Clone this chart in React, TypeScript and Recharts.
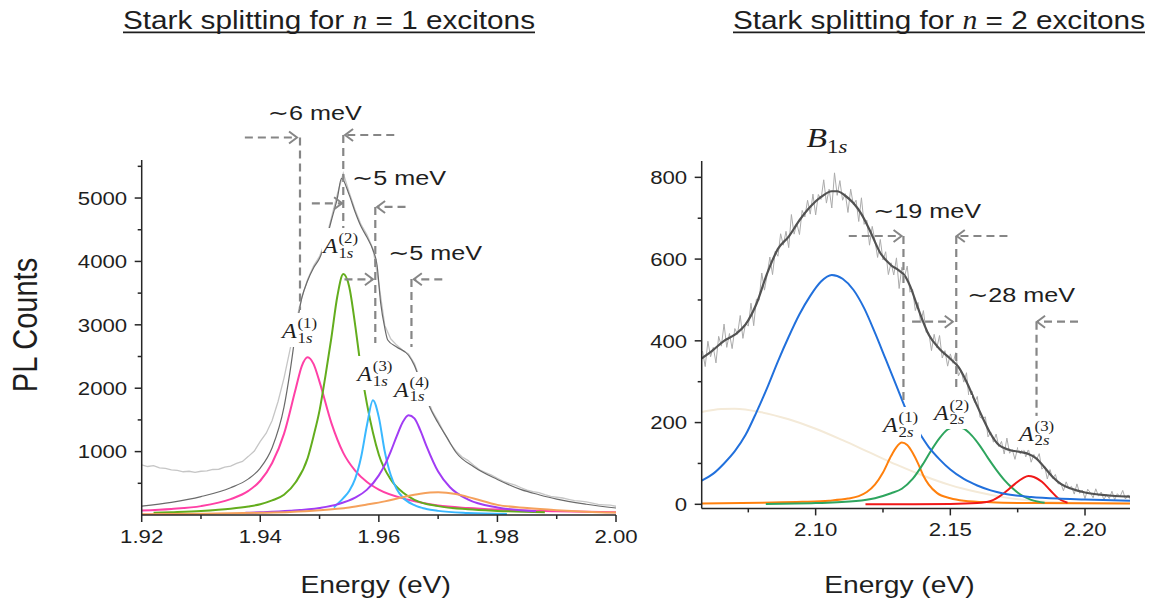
import { LineChart, Line, XAxis, YAxis, ReferenceLine, ReferenceDot } from "recharts";

// ---------- n = 1 panel (energy in eV, PL counts) ----------
const pinkE = [1.92, 1.925, 1.93, 1.935, 1.938, 1.94, 1.942, 1.944, 1.946, 1.947, 1.948, 1.949, 1.95, 1.952, 1.954, 1.956, 1.958, 1.96, 1.965, 1.97, 1.975, 1.98, 1.99, 2.0];
const pinkV = [70, 95, 140, 250, 380, 540, 820, 1280, 2000, 2350, 2490, 2380, 2100, 1450, 980, 700, 520, 400, 240, 150, 110, 85, 60, 45];

const greenE = [1.922, 1.925, 1.93, 1.935, 1.938, 1.94, 1.942, 1.944, 1.946, 1.948, 1.949, 1.95, 1.951, 1.952, 1.953, 1.954, 1.955, 1.956, 1.957, 1.958, 1.959, 1.96, 1.962, 1.964, 1.966, 1.97, 1.975, 1.98, 1.988];
const greenV = [35, 45, 65, 100, 135, 170, 230, 320, 520, 900, 1250, 1650, 2200, 2800, 3450, 3800, 3600, 3000, 2300, 1750, 1300, 950, 560, 360, 240, 140, 90, 65, 45];

const cyanE = [1.9524, 1.954, 1.955, 1.956, 1.957, 1.958, 1.959, 1.96, 1.961, 1.962, 1.963, 1.964, 1.966, 1.968, 1.97, 1.975, 1.9816];
const cyanV = [120, 265, 380, 570, 910, 1420, 1810, 1540, 1000, 630, 410, 280, 155, 95, 65, 32, 17];

const purpleE = [1.9375, 1.94, 1.945, 1.95, 1.953, 1.956, 1.958, 1.96, 1.961, 1.962, 1.963, 1.964, 1.965, 1.966, 1.967, 1.968, 1.97, 1.972, 1.975, 1.98, 1.9865];
const purpleV = [35, 43, 66, 112, 168, 273, 400, 625, 790, 1000, 1240, 1460, 1575, 1525, 1335, 1095, 685, 437, 245, 118, 60];

const peachE = [1.92, 1.93, 1.94, 1.945, 1.95, 1.955, 1.958, 1.961, 1.964, 1.967, 1.97, 1.973, 1.976, 1.98, 1.985, 1.99, 1.995, 2.0];
const peachV = [12, 20, 35, 48, 75, 120, 165, 215, 280, 335, 358, 330, 260, 160, 110, 76, 52, 38];

const fit1E = [1.92, 1.925, 1.93, 1.935, 1.938, 1.94, 1.942, 1.944, 1.945, 1.946, 1.947, 1.948, 1.949, 1.95, 1.951, 1.952, 1.953, 1.9537, 1.955, 1.956, 1.957, 1.958, 1.959, 1.9597, 1.9603, 1.961, 1.9615, 1.963, 1.965, 1.966, 1.967, 1.9685, 1.97, 1.9715, 1.973, 1.976, 1.98, 1.984, 1.987, 1.99, 1.995, 2.0];
const fit1V = [140, 200, 290, 430, 570, 740, 1060, 1700, 2250, 2900, 3420, 3700, 3900, 4050, 4300, 4650, 5000, 5310, 5050, 4780, 4550, 4380, 4180, 3940, 3350, 2950, 2760, 2650, 2520, 2360, 2100, 1720, 1450, 1220, 990, 760, 560, 400, 320, 250, 170, 110];

// measured spectrum, 1 meV steps from 1.920 eV
const raw1Start = 1.92;
const raw1V = [
  790, 765, 780, 742, 735, 712, 705, 682, 690, 672,
  690, 695, 718, 722, 755, 770, 815, 845, 925, 1010,
  1160, 1290, 1490, 1790, 2160, 2600, 3040, 3430, 3720, 3930,
  4080, 4330, 4690, 5060, 5390, 5090, 4810, 4580, 4420, 4200,
  3650, 2990, 2780, 2680, 2600, 2540, 2390, 2130, 1880, 1640,
  1480, 1300, 1130, 1010, 920, 862, 785, 712, 670, 628,
  580, 532, 500, 470, 430, 392, 370, 352, 320, 294,
  280, 268, 248, 226, 218, 206, 188, 166, 160, 156, 138,
];

const n1XMajor = [1.92, 1.94, 1.96, 1.98, 2.0];
const n1XMinor = [1.93, 1.95, 1.97, 1.99];
const n1YMajor = [1000, 2000, 3000, 4000, 5000];
const n1YMinor = [500, 1500, 2500, 3500, 4500, 5500];

const n1Guides = [
  { x1: 1.9374, y1: 5955, x2: 1.9462, y2: 5955, head: true },
  { x1: 1.9467, y1: 5955, x2: 1.9467, y2: 3234, head: false },
  { x1: 1.9626, y1: 5994, x2: 1.9543, y2: 5994, head: true },
  { x1: 1.954, y1: 5994, x2: 1.954, y2: 4496, head: false },
  { x1: 1.9487, y1: 4917, x2: 1.9538, y2: 4917, head: true },
  { x1: 1.9594, y1: 4859, x2: 1.9594, y2: 2713, head: false },
  { x1: 1.9645, y1: 4859, x2: 1.9597, y2: 4859, head: true },
  { x1: 1.9542, y1: 3718, x2: 1.959, y2: 3718, head: true },
  { x1: 1.9655, y1: 3723, x2: 1.9655, y2: 2650, head: false },
  { x1: 1.9707, y1: 3718, x2: 1.9659, y2: 3718, head: true },
];
const n1Notes = [
  { x: 1.9492, y: 6231, text: "∼6 meV" },
  { x: 1.9634, y: 5205, text: "∼5 meV" },
  { x: 1.9695, y: 4022, text: "∼5 meV" },
];
const n1States = [
  { x: 1.9467, y: 2918, sup: "(1)" },
  { x: 1.9536, y: 4259, sup: "(2)" },
  { x: 1.9594, y: 2240, sup: "(3)" },
  { x: 1.9656, y: 1988, sup: "(4)" },
];

// ---------- n = 2 panel ----------
const blueE = [2.0577, 2.062, 2.066, 2.07, 2.074, 2.078, 2.082, 2.086, 2.09, 2.094, 2.098, 2.102, 2.106, 2.11, 2.114, 2.118, 2.122, 2.126, 2.13, 2.134, 2.138, 2.142, 2.146, 2.15, 2.155, 2.16, 2.165, 2.17, 2.18, 2.19, 2.2, 2.21, 2.2167];
const blueV = [58, 75, 100, 130, 170, 225, 285, 350, 410, 465, 510, 545, 561, 552, 525, 480, 420, 355, 290, 225, 180, 140, 110, 85, 62, 46, 34, 26, 18, 14, 12, 10, 9];

const beigeE = [2.0577, 2.065, 2.07, 2.08, 2.09, 2.1, 2.11, 2.12, 2.13, 2.14, 2.15, 2.16, 2.17, 2.18, 2.19, 2.2, 2.2167];
const beigeV = [226, 233, 234, 225, 208, 185, 157, 127, 97, 70, 47, 30, 17, 9, 5, 3, 2];

const orangeE = [2.0577, 2.08, 2.095, 2.105, 2.112, 2.116, 2.119, 2.122, 2.125, 2.128, 2.13, 2.132, 2.134, 2.136, 2.138, 2.14, 2.142, 2.145, 2.15, 2.155, 2.165, 2.18, 2.2167];
const orangeV = [2, 4, 6, 9, 14, 20, 30, 48, 78, 118, 140, 151, 145, 126, 100, 70, 48, 28, 15, 9, 5, 3, 2];

const emeraldE = [2.0815, 2.1, 2.115, 2.122, 2.128, 2.132, 2.136, 2.14, 2.143, 2.146, 2.149, 2.152, 2.155, 2.158, 2.161, 2.164, 2.167, 2.17, 2.173, 2.176, 2.18, 2.185];
const emeraldV = [1, 3, 8, 15, 27, 38, 62, 100, 133, 162, 183, 190, 185, 168, 143, 113, 85, 60, 40, 24, 11, 4];

const redE = [2.1185, 2.15, 2.16, 2.165, 2.168, 2.171, 2.174, 2.177, 2.179, 2.181, 2.184, 2.187, 2.19, 2.1935];
const redV = [0, 1, 3, 8, 18, 33, 50, 64, 69, 67, 55, 35, 15, 4];

const fit2E = [2.0577, 2.062, 2.066, 2.07, 2.074, 2.078, 2.082, 2.086, 2.09, 2.094, 2.098, 2.102, 2.106, 2.108, 2.111, 2.114, 2.117, 2.12, 2.124, 2.128, 2.131, 2.133, 2.135, 2.138, 2.142, 2.146, 2.15, 2.153, 2.156, 2.159, 2.162, 2.165, 2.168, 2.172, 2.176, 2.179, 2.182, 2.185, 2.188, 2.191, 2.195, 2.2, 2.205, 2.21, 2.2167];
const fit2V = [357, 378, 400, 415, 440, 490, 565, 625, 655, 695, 728, 752, 766, 766, 755, 737, 710, 672, 615, 585, 572, 560, 535, 480, 415, 380, 356, 336, 300, 255, 212, 172, 145, 133, 128, 123, 112, 90, 67, 50, 38, 29, 24, 21, 19];

// measured spectrum, 1 meV steps from 2.058 eV
const raw2Start = 2.058;
const raw2V = [
  375, 337, 399, 361, 384, 346, 411, 387, 441, 384,
  418, 381, 430, 416, 462, 406, 444, 436, 492, 437,
  502, 499, 566, 524, 562, 605, 562, 619, 607, 662,
  634, 668, 628, 709, 661, 688, 660, 719, 703, 744,
  710, 759, 708, 758, 746, 794, 737, 771, 725, 811,
  756, 792, 744, 760, 714, 771, 733, 744, 692, 750,
  685, 695, 634, 680, 646, 604, 648, 598, 618, 562,
  591, 561, 603, 528, 580, 557, 583, 519, 526, 474,
  494, 444, 474, 421, 420, 376, 416, 383, 413, 358,
  376, 338, 368, 345, 371, 314, 327, 299, 322, 253,
  277, 249, 264, 213, 210, 214, 165, 177, 152, 172,
  141, 154, 123, 162, 125, 134, 110, 139, 123, 140,
  116, 135, 103, 122, 109, 124, 86, 94, 62, 85,
  63, 73, 50, 52, 33, 55, 39, 44, 25, 50,
  27, 35, 14, 37, 28, 16, 38, 20, 30, 11,
  24, 14, 32, 11, 26, 19, 34, 13, 23, 9,
];

const n2XMajor = [2.1, 2.15, 2.2];
const n2XMinor = [2.075, 2.125, 2.175];
const n2YMajor = [0, 200, 400, 600, 800];
const n2YMinor = [100, 300, 500, 700];

const n2Guides = [
  { x1: 2.1123, y1: 656.5, x2: 2.1319, y2: 656.5, head: true },
  { x1: 2.1326, y1: 656.5, x2: 2.1326, y2: 255, head: false },
  { x1: 2.1712, y1: 656.5, x2: 2.1524, y2: 656.5, head: true },
  { x1: 2.1522, y1: 656.5, x2: 2.1522, y2: 275, head: false },
  { x1: 2.1358, y1: 446.8, x2: 2.1509, y2: 446.8, head: true },
  { x1: 2.1974, y1: 446.8, x2: 2.1822, y2: 446.8, head: true },
  { x1: 2.182, y1: 446.8, x2: 2.182, y2: 214, head: false },
];
const n2Notes = [
  { x: 2.1414, y: 700.5, text: "∼19 meV" },
  { x: 2.1763, y: 495, text: "∼28 meV" },
];
const n2States = [
  { x: 2.1317, y: 196.5, sup: "(1)" },
  { x: 2.1506, y: 225.9, sup: "(2)" },
  { x: 2.1822, y: 174.7, sup: "(3)" },
];

const pts = (es: number[], vs: number[]) => es.map((e, i) => ({ e, v: vs[i] }));
const stepPts = (start: number, vs: number[]) =>
  vs.map((v, i) => ({ e: Number((start + i * 0.001).toFixed(4)), v }));

const SANS = "'Liberation Sans', Arial, 'DejaVu Sans', sans-serif";
const SERIF = "'Liberation Serif', 'DejaVu Serif', serif";
const INK = "#1e1e1e";
const AXIS = "#262626";
const GUIDE = "#868686";
const SX = 1.2; // the source figure's lettering is wide

function SText({ x, y, size, anchor = "start", family = SANS, children }: any) {
  return (
    <text
      transform={`translate(${x},${y}) scale(${SX},1)`}
      textAnchor={anchor}
      fontSize={size}
      fontFamily={family}
      fill={INK}
    >
      {children}
    </text>
  );
}

function xTick(major: number[]) {
  return (p: any) => {
    const v = p.payload.value;
    const isMajor = major.some((m) => Math.abs(m - v) < 1e-6);
    return (
      <g>
        <line x1={p.x} x2={p.x} y1={p.y} y2={p.y + (isMajor ? 7 : 4)} stroke={AXIS} strokeWidth={1.5} />
        {isMajor && (
          <SText x={p.x} y={p.y + 28} size={18.5} anchor="middle">
            {v.toFixed(2)}
          </SText>
        )}
      </g>
    );
  };
}

function yTick(major: number[]) {
  return (p: any) => {
    const v = p.payload.value;
    const isMajor = major.includes(v);
    return (
      <g>
        <line x1={p.x - (isMajor ? 7 : 4)} x2={p.x} y1={p.y} y2={p.y} stroke={AXIS} strokeWidth={1.5} />
        {isMajor && (
          <SText x={p.x - 14.5} y={p.y + 6.7} size={18.5} anchor="end">
            {v}
          </SText>
        )}
      </g>
    );
  };
}

function Guide(p: any) {
  const { x1, y1, x2, y2, head } = p;
  const dir = x2 > x1 ? 1 : -1;
  return (
    <g>
      <line x1={x1} y1={y1} x2={x2} y2={y2} stroke={GUIDE} strokeWidth={2.2} strokeDasharray="8 5" />
      {head && (
        <path
          d={`M${x2 - dir * 8},${y2 - 6} L${x2},${y2} L${x2 - dir * 8},${y2 + 6}`}
          fill="none"
          stroke={GUIDE}
          strokeWidth={2}
        />
      )}
    </g>
  );
}

function StateLabel({ cx, cy, n, sup }: any) {
  return (
    <g>
      <rect x={cx - 19} y={cy - 17} width={39} height={34} fill="#fff" />
      <SText x={cx - 18} y={cy + 8} size={20} family={SERIF}>
        <tspan fontStyle="italic">A</tspan>
      </SText>
      <SText x={cx - 2.5} y={cy - 2} size={14} family={SERIF}>
        {sup}
      </SText>
      <SText x={cx - 2.5} y={cy + 12.5} size={14} family={SERIF}>
        {n}
        <tspan fontStyle="italic">s</tspan>
      </SText>
    </g>
  );
}

function renderGuides(list: typeof n1Guides) {
  return list.map((g, i) => (
    <ReferenceLine
      key={`g${i}`}
      segment={[{ x: g.x1, y: g.y1 }, { x: g.x2, y: g.y2 }]}
      ifOverflow="visible"
      zIndex={1500}
      shape={(p: any) => <Guide {...p} head={g.head} />}
    />
  ));
}

function renderNotes(list: typeof n1Notes) {
  return list.map((t, i) => (
    <ReferenceDot
      key={`t${i}`}
      x={t.x}
      y={t.y}
      r={0}
      ifOverflow="visible"
      zIndex={2500}
      shape={(p: any) => (
        <SText x={p.cx} y={p.cy} size={21} anchor="middle">
          {t.text}
        </SText>
      )}
    />
  ));
}

function renderStates(list: typeof n1States, n: string) {
  return list.map((s, i) => (
    <ReferenceDot
      key={`s${i}`}
      x={s.x}
      y={s.y}
      r={0}
      ifOverflow="visible"
      zIndex={2600}
      shape={(p: any) => <StateLabel cx={p.cx} cy={p.cy} n={n} sup={s.sup} />}
    />
  ));
}

const lineProps = { dataKey: "v", dot: false, isAnimationActive: false, activeDot: false } as const;

export default function App() {
  return (
    <div style={{ position: "absolute", left: 0, top: 0, width: 1153, height: 606, background: "#fff" }}>
      <div style={{ position: "absolute", left: 0, top: 0 }}>
        <LineChart width={660} height={606} margin={{ top: 160, right: 44, bottom: 31, left: 61.7 }}>
          <XAxis
            dataKey="e"
            type="number"
            domain={[1.92, 2.0]}
            allowDataOverflow
            ticks={[...n1XMajor, ...n1XMinor].sort()}
            interval={0}
            tick={xTick(n1XMajor)}
            tickLine={false}
            tickSize={0}
            tickMargin={0}
            height={60}
            axisLine={{ stroke: AXIS, strokeWidth: 1.5 }}
          />
          <YAxis
            type="number"
            domain={[0, 5600]}
            allowDataOverflow
            ticks={[...n1YMajor, ...n1YMinor].sort((a, b) => a - b)}
            interval={0}
            tick={yTick(n1YMajor)}
            tickLine={false}
            tickSize={0}
            tickMargin={0}
            width={80}
            axisLine={{ stroke: AXIS, strokeWidth: 1.5 }}
          />
          <Line {...lineProps} data={stepPts(raw1Start, raw1V)} type="linear" stroke="#c6c6c6" strokeWidth={1.3} />
          <Line {...lineProps} data={pts(fit1E, fit1V)} type="monotone" stroke="#6a6a6a" strokeWidth={1.2} />
          <Line {...lineProps} data={pts(pinkE, pinkV)} type="monotone" stroke="#ff40a6" strokeWidth={2} />
          <Line {...lineProps} data={pts(greenE, greenV)} type="monotone" stroke="#63ad1d" strokeWidth={2} />
          <Line {...lineProps} data={pts(cyanE, cyanV)} type="monotone" stroke="#3ab8ff" strokeWidth={2} />
          <Line {...lineProps} data={pts(purpleE, purpleV)} type="monotone" stroke="#a13cf4" strokeWidth={2} />
          <Line {...lineProps} data={pts(peachE, peachV)} type="monotone" stroke="#f5a15c" strokeWidth={2} />
          {renderGuides(n1Guides)}
          {renderNotes(n1Notes)}
          {renderStates(n1States, "1")}
        </LineChart>
      </div>

      <div style={{ position: "absolute", left: 625, top: 0 }}>
        <LineChart width={528} height={606} margin={{ top: 161, right: 23, bottom: 37.6, left: 16.7 }}>
          <XAxis
            dataKey="e"
            type="number"
            domain={[2.0577, 2.2167]}
            allowDataOverflow
            ticks={[...n2XMajor, ...n2XMinor].sort()}
            interval={0}
            tick={xTick(n2XMajor)}
            tickLine={false}
            tickSize={0}
            tickMargin={0}
            height={60}
            axisLine={{ stroke: AXIS, strokeWidth: 1.5 }}
          />
          <YAxis
            type="number"
            domain={[-10, 840]}
            allowDataOverflow
            ticks={[...n2YMajor, ...n2YMinor].sort((a, b) => a - b)}
            interval={0}
            tick={yTick(n2YMajor)}
            tickLine={false}
            tickSize={0}
            tickMargin={0}
            width={60}
            axisLine={{ stroke: AXIS, strokeWidth: 1.5 }}
          />
          <Line {...lineProps} data={stepPts(raw2Start, raw2V)} type="linear" stroke="#ababab" strokeWidth={1} />
          <Line {...lineProps} data={pts(beigeE, beigeV)} type="monotone" stroke="#f4ead8" strokeWidth={2} />
          <Line {...lineProps} data={pts(fit2E, fit2V)} type="monotone" stroke="#525252" strokeWidth={2.2} />
          <Line {...lineProps} data={pts(orangeE, orangeV)} type="monotone" stroke="#ff800d" strokeWidth={2} />
          <Line {...lineProps} data={pts(emeraldE, emeraldV)} type="monotone" stroke="#2ea55e" strokeWidth={2} />
          <Line {...lineProps} data={pts(redE, redV)} type="monotone" stroke="#f01818" strokeWidth={2} />
          <Line {...lineProps} data={pts(blueE, blueV)} type="monotone" stroke="#2170dc" strokeWidth={2} />
          {renderGuides(n2Guides)}
          {renderNotes(n2Notes)}
          <ReferenceDot
            x={2.1042}
            y={875}
            r={0}
            ifOverflow="visible"
            zIndex={2500}
            shape={(p: any) => (
              <SText x={p.cx} y={p.cy} size={28} anchor="middle" family={SERIF}>
                <tspan fontStyle="italic">B</tspan>
                <tspan fontSize={19} dy={6}>1</tspan>
                <tspan fontSize={19} fontStyle="italic">s</tspan>
              </SText>
            )}
          />
          {renderStates(n2States, "2")}
        </LineChart>
      </div>

      <svg width={1153} height={606} style={{ position: "absolute", left: 0, top: 0, pointerEvents: "none" }}>
        <text x={123} y={28.5} fontSize={26.5} fontFamily={SANS} fill={INK} textLength={412} lengthAdjust="spacingAndGlyphs">
          Stark splitting for <tspan fontFamily={SERIF} fontStyle="italic">n</tspan> = 1 excitons
        </text>
        <line x1={123} x2={535} y1={32.3} y2={32.3} stroke={INK} strokeWidth={1.8} />
        <text x={733} y={28.5} fontSize={26.5} fontFamily={SANS} fill={INK} textLength={412} lengthAdjust="spacingAndGlyphs">
          Stark splitting for <tspan fontFamily={SERIF} fontStyle="italic">n</tspan> = 2 excitons
        </text>
        <line x1={733} x2={1145} y1={32.3} y2={32.3} stroke={INK} strokeWidth={1.8} />
        <SText x={375.6} y={592.7} size={23.5} anchor="middle">
          Energy (eV)
        </SText>
        <SText x={899.4} y={593.3} size={23.5} anchor="middle">
          Energy (eV)
        </SText>
        <text
          transform={`translate(37.4,325) scale(${SX},1) rotate(-90)`}
          textAnchor="middle"
          fontSize={29}
          fontFamily={SANS}
          fill={INK}
        >
          PL Counts
        </text>
      </svg>
    </div>
  );
}
